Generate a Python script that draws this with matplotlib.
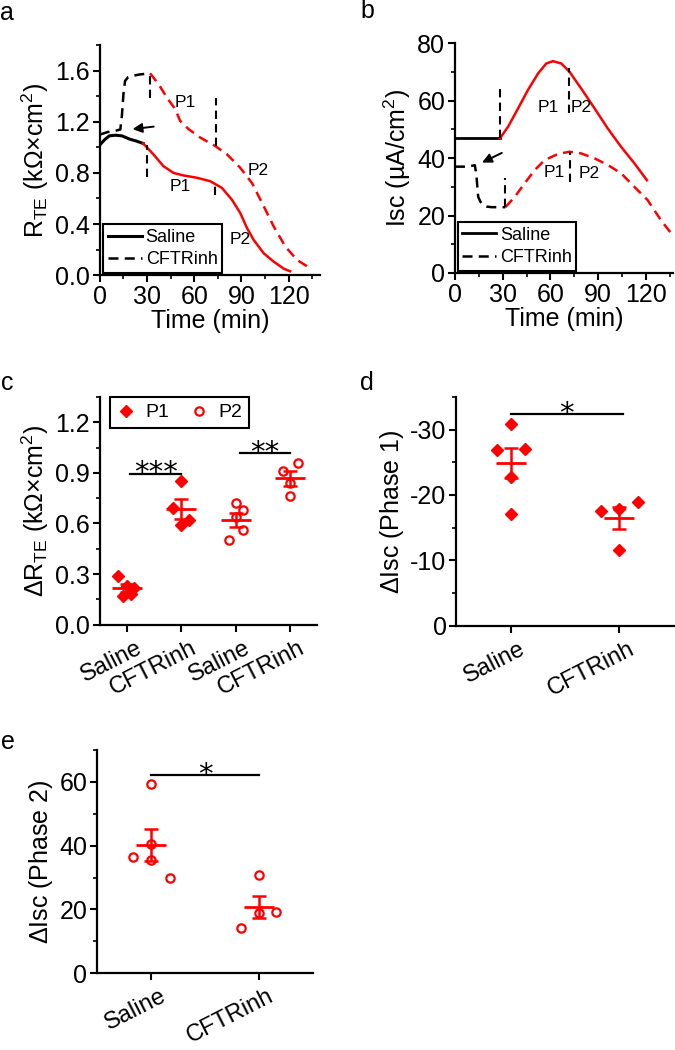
import matplotlib
matplotlib.use("Agg")
import matplotlib.pyplot as plt
import matplotlib.transforms as mtransforms
from matplotlib.ticker import MultipleLocator, FormatStrFormatter
import numpy as np

plt.rcParams['font.family'] = ['Liberation Sans', 'DejaVu Sans']
plt.rcParams['mathtext.fontset'] = 'custom'
plt.rcParams['mathtext.rm'] = 'Liberation Sans'
plt.rcParams['mathtext.it'] = 'Liberation Sans:italic'
plt.rcParams['axes.unicode_minus'] = False

# ---- panel a: R_TE time course ----
a_sal_base_t = [0, 3, 6, 10, 14, 19, 23, 27.6]
a_sal_base_v = [1.02, 1.06, 1.09, 1.095, 1.09, 1.064, 1.05, 1.03]
a_sal_t = [27.6, 34, 40.4, 46.8, 53.2, 61.7, 70.2, 77.6, 84, 89.3, 93.6, 97.8, 104.2, 110.6, 117, 121]
a_sal_v = [1.03, 0.946, 0.853, 0.80, 0.78, 0.762, 0.735, 0.683, 0.59, 0.486, 0.368, 0.276, 0.171, 0.105, 0.05, 0.03]
a_inh_base_t = [0, 5, 10, 13, 14, 15, 16, 18, 21, 25, 31.9]
a_inh_base_v = [1.10, 1.12, 1.13, 1.14, 1.25, 1.42, 1.52, 1.55, 1.56, 1.57, 1.58]
a_inh_t = [31.9, 37.2, 42.6, 47.9, 51, 56.4, 63.8, 73.4, 80.8, 89.3, 96.8, 104.2, 110.6, 118, 125.5, 133]
a_inh_v = [1.58, 1.497, 1.39, 1.30, 1.208, 1.143, 1.077, 1.01, 0.946, 0.84, 0.72, 0.54, 0.38, 0.223, 0.118, 0.06]
a_marks = [(29.8, 0.77, 1.02), (32, 1.39, 1.57), (74, 1.01, 1.39), (73.4, 0.63, 0.72)]
a_labels = [("P1", 54, 1.35), ("P2", 101, 0.82), ("P1", 51, 0.69), ("P2", 89, 0.28)]

# ---- panel b: Isc time course ----
b_sal_base_t = [0, 28.2]
b_sal_base_v = [46.8, 46.8]
b_sal_t = [28.2, 33.4, 39.7, 45.9, 52.2, 57.4, 61.6, 66.8, 72, 79.3, 87.7, 96, 104.4, 112.7, 120.6]
b_sal_v = [46.8, 50.9, 57.3, 63.7, 69.4, 72.9, 73.7, 72.9, 70, 64.2, 57.3, 50.3, 43.9, 38.2, 32.3]
b_inh_base_t = [0, 8, 12.5, 13.5, 14.2, 14.6, 16, 17.7, 20, 23, 31.7]
b_inh_base_v = [37, 37, 37.5, 34, 29, 26.5, 24.8, 23.7, 23.1, 22.9, 22.9]
b_inh_t = [31.7, 37.6, 43.8, 50.1, 56.4, 64.7, 72, 79.3, 87.7, 96, 104.4, 112.7, 121, 129.4, 136.7]
b_inh_v = [22.9, 26.5, 31.2, 35.8, 39.3, 41.4, 42.2, 41.6, 39.9, 37.6, 34.7, 30, 25.4, 18.4, 13.2]
b_marks = [(28.2, 46.8, 64.8), (31.7, 23, 32.9), (71.6, 55.5, 71.2), (72.4, 31.8, 42.2)]
b_labels = [("P1", 58.4, 57.6), ("P2", 79.3, 57.6), ("P1", 62.6, 34.9), ("P2", 84.5, 34.7)]

# ---- panel c: delta R_TE ----
c_groups = ["Saline", "CFTRinh", "Saline", "CFTRinh"]
c_sal_p1 = [0.29, 0.17, 0.18, 0.22, 0.23]
c_inh_p1 = [0.85, 0.69, 0.62, 0.59]
c_sal_p2 = [0.72, 0.68, 0.56, 0.50, 0.64]
c_inh_p2 = [0.96, 0.91, 0.76, 0.84]
c_sal_p1_dx = [-0.17, -0.08, 0.07, 0.13, 0.0]
c_inh_p1_dx = [0.0, -0.15, 0.14, 0.0]
c_sal_p2_dx = [0.0, 0.14, 0.14, -0.12, 0.0]
c_inh_p2_dx = [0.14, -0.13, 0.0, 0.0]

# ---- panel d: delta Isc phase 1 ----
d_groups = ["Saline", "CFTRinh"]
d_sal = [-30.8, -26.9, -27.0, -22.8, -17.1]
d_inh = [-17.6, -18.9, -11.6, -17.8]
d_sal_dx = [0.0, -0.13, 0.13, 0.0, 0.0]
d_inh_dx = [-0.17, 0.17, 0.0, 0.0]

# ---- panel e: delta Isc phase 2 ----
e_groups = ["Saline", "CFTRinh"]
e_sal = [59.2, 36.4, 29.9, 40.5, 35.6]
e_inh = [30.7, 14.2, 19.3, 19.0]
e_sal_dx = [0.0, -0.17, 0.17, 0.0, 0.0]
e_inh_dx = [0.0, -0.17, 0.16, 0.0]

RED = '#ff0000'
FS = 18
dash = (0, (4, 2.5))

fig = plt.figure(figsize=(6.75, 10.5), dpi=100)


def style(ax):
    for s in ['top', 'right']:
        ax.spines[s].set_visible(False)
    for s in ['left', 'bottom']:
        ax.spines[s].set_linewidth(1.6)
    ax.tick_params(which='major', direction='out', length=5, width=1.5, labelsize=FS, pad=2)
    ax.tick_params(which='minor', direction='out', length=3, width=1.2)


def cat_labels(ax, names):
    ax.set_xticks(range(1, len(names) + 1))
    ax.set_xticklabels(names, rotation=27, ha='right', va='top', rotation_mode='anchor', fontsize=17)
    ax.tick_params(axis='x', pad=3.5)
    shift = mtransforms.ScaledTranslation(6 / 72, 0, fig.dpi_scale_trans)
    for lab in ax.get_xticklabels():
        lab.set_transform(lab.get_transform() + shift)


def scatter_group(ax, x, vals, dx, marker, filled):
    xs = [x + d for d in dx]
    if filled:
        ax.plot(xs, vals, ls='none', marker=marker, ms=6, color=RED, mec=RED, zorder=3)
    else:
        ax.plot(xs, vals, ls='none', marker=marker, ms=6, mfc='white', mec=RED, mew=1.6, zorder=3)
    m = np.mean(vals)
    sem = np.std(vals, ddof=1) / np.sqrt(len(vals))
    ax.errorbar([x], [m], yerr=[sem], color=RED, capsize=5, capthick=1.8, elinewidth=1.8, fmt='none', zorder=4)
    ax.plot([x], [m], marker='_', ms=22, mew=2, color=RED, zorder=4)


def sig(ax, x0, x1, y, txt):
    ax.plot([x0, x1], [y, y], color='black', lw=1.6)
    ax.annotate(txt, ((x0 + x1) / 2, y), xytext=(0, -5.5), textcoords='offset points',
                ha='center', va='baseline', fontsize=21, family='DejaVu Sans')


def time_legend(ax, x0):
    leg = ax.legend(loc='lower left', bbox_to_anchor=(x0, 0.01), fontsize=13, handlelength=1.9,
                    fancybox=False, edgecolor='black', framealpha=1, borderpad=0.25, labelspacing=0.3,
                    handletextpad=0.2, borderaxespad=0)
    leg.get_frame().set_linewidth(1.5)


# panel a
ax = fig.add_axes([0.148, 0.738, 0.326, 0.219])
style(ax)
ax.plot(a_sal_base_t, a_sal_base_v, color='black', lw=2.2, label='Saline')
ax.plot(a_sal_t, a_sal_v, color=RED, lw=1.8)
ax.plot(a_inh_base_t, a_inh_base_v, color='black', lw=1.8, ls=dash, label='CFTRinh')
ax.plot(a_inh_t, a_inh_v, color=RED, lw=1.8, ls=dash)
for t, v0, v1 in a_marks:
    ax.plot([t, t], [v0, v1], color='black', lw=1.5, ls=dash)
for txt, t, v in a_labels:
    ax.text(t, v, txt, fontsize=12.5, ha='center', va='center')
ax.annotate('', xy=(19, 1.14), xytext=(36, 1.165),
            arrowprops=dict(arrowstyle='-|>', color='black', lw=1.4, mutation_scale=14))
ax.set_xlim(0, 140)
ax.set_ylim(0, 1.8)
ax.xaxis.set_major_locator(MultipleLocator(30))
ax.xaxis.set_minor_locator(MultipleLocator(15))
ax.yaxis.set_major_locator(MultipleLocator(0.4))
ax.yaxis.set_minor_locator(MultipleLocator(0.2))
ax.yaxis.set_major_formatter(FormatStrFormatter('%.1f'))
ax.set_xlabel('Time (min)', fontsize=FS, labelpad=0)
ax.set_ylabel(r'R$_{\mathregular{TE}}$ (k$\Omega$$\times$cm$^{\mathregular{2}}$)', fontsize=FS, labelpad=3)
time_legend(ax, 0.015)

# panel b
ax = fig.add_axes([0.674, 0.740, 0.323, 0.219])
style(ax)
ax.plot(b_sal_base_t, b_sal_base_v, color='black', lw=2.0, label='Saline')
ax.plot(b_sal_t, b_sal_v, color=RED, lw=1.8)
ax.plot(b_inh_base_t, b_inh_base_v, color='black', lw=1.8, ls=dash, label='CFTRinh')
ax.plot(b_inh_t, b_inh_v, color=RED, lw=1.8, ls=dash)
for t, v0, v1 in b_marks:
    ax.plot([t, t], [v0, v1], color='black', lw=1.5, ls=dash)
for txt, t, v in b_labels:
    ax.text(t, v, txt, fontsize=12.5, ha='center', va='center')
ax.annotate('', xy=(15.5, 38), xytext=(31, 42.2),
            arrowprops=dict(arrowstyle='-|>', color='black', lw=1.4, mutation_scale=14))
ax.set_xlim(0, 137)
ax.set_ylim(0, 80)
ax.xaxis.set_major_locator(MultipleLocator(30))
ax.xaxis.set_minor_locator(MultipleLocator(15))
ax.yaxis.set_major_locator(MultipleLocator(20))
ax.yaxis.set_minor_locator(MultipleLocator(10))
ax.set_xlabel('Time (min)', fontsize=FS, labelpad=0)
ax.set_ylabel('Isc (µA/cm$^{\\mathregular{2}}$)', fontsize=FS, labelpad=3)
time_legend(ax, 0.012)

# panel c
ax = fig.add_axes([0.148, 0.405, 0.322, 0.217])
style(ax)
scatter_group(ax, 1, c_sal_p1, c_sal_p1_dx, 'D', True)
scatter_group(ax, 2, c_inh_p1, c_inh_p1_dx, 'D', True)
scatter_group(ax, 3, c_sal_p2, c_sal_p2_dx, 'o', False)
scatter_group(ax, 4, c_inh_p2, c_inh_p2_dx, 'o', False)
sig(ax, 1.05, 2.0, 0.895, '***')
sig(ax, 3.07, 4.0, 1.015, '**')
h1, = ax.plot([], [], ls='none', marker='D', ms=6, color=RED, label='P1')
h2, = ax.plot([], [], ls='none', marker='o', ms=6, mfc='white', mec=RED, mew=1.6, label='P2')
leg = ax.legend(handles=[h1, h2], loc='upper left', bbox_to_anchor=(0.045, 1.0), ncol=2, fontsize=14,
                fancybox=False, edgecolor='black', framealpha=1, borderpad=0.35, handletextpad=0.5,
                columnspacing=1.0, borderaxespad=0, handlelength=1.0)
leg.get_frame().set_linewidth(1.5)
ax.set_xlim(0.5, 4.5)
ax.set_ylim(0, 1.35)
cat_labels(ax, c_groups)
ax.yaxis.set_major_locator(MultipleLocator(0.3))
ax.yaxis.set_minor_locator(MultipleLocator(0.15))
ax.yaxis.set_major_formatter(FormatStrFormatter('%.1f'))
ax.set_ylabel(r'$\Delta$R$_{\mathregular{TE}}$ (k$\Omega$$\times$cm$^{\mathregular{2}}$)', fontsize=FS, labelpad=3)

# panel d
ax = fig.add_axes([0.676, 0.404, 0.322, 0.218])
style(ax)
scatter_group(ax, 1, d_sal, d_sal_dx, 'D', True)
scatter_group(ax, 2, d_inh, d_inh_dx, 'D', True)
sig(ax, 1.0, 2.03, -32.4, '*')
ax.set_xlim(0.5, 2.5)
ax.set_ylim(0, -35)
cat_labels(ax, d_groups)
ax.yaxis.set_major_locator(MultipleLocator(10))
ax.yaxis.set_minor_locator(MultipleLocator(5))
ax.set_ylabel(r'$\Delta$Isc (Phase 1)', fontsize=FS, labelpad=3)

# panel e
ax = fig.add_axes([0.144, 0.073, 0.320, 0.213])
style(ax)
scatter_group(ax, 1, e_sal, e_sal_dx, 'o', False)
scatter_group(ax, 2, e_inh, e_inh_dx, 'o', False)
sig(ax, 1.0, 2.0, 62.0, '*')
ax.set_xlim(0.5, 2.5)
ax.set_ylim(0, 70)
cat_labels(ax, e_groups)
ax.yaxis.set_major_locator(MultipleLocator(20))
ax.yaxis.set_minor_locator(MultipleLocator(10))
ax.set_ylabel(r'$\Delta$Isc (Phase 2)', fontsize=FS, labelpad=3)

# panel letters
for txt, x, y in [('a', 7, 13), ('b', 367, 11), ('c', 7, 383), ('d', 367, 383), ('e', 8, 742)]:
    fig.text(x / 675, 1 - y / 1050, txt, fontsize=18, ha='center', va='center')

fig.savefig('out.png', dpi=100)
